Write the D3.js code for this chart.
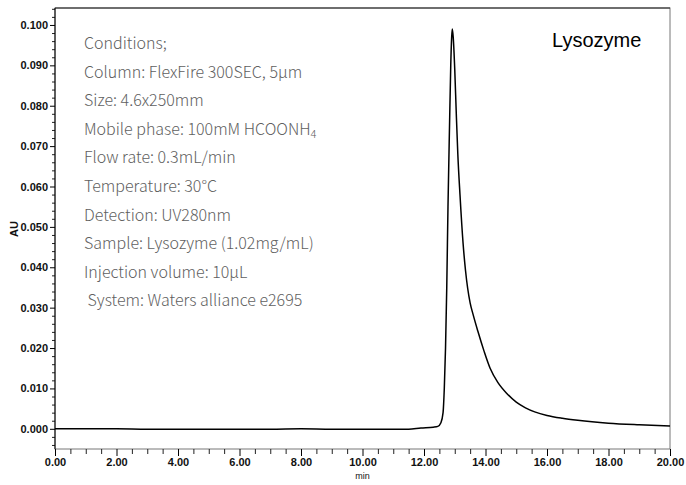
<!DOCTYPE html>
<html><head><meta charset="utf-8">
<script src="https://cdn.jsdelivr.net/npm/d3@7"></script>
<style>body{margin:0;background:#fff}svg{display:block}</style>
</head><body>
<script>
// ---- data ----
const timeMin = [0, 1, 2, 3, 4, 5, 6, 7, 8, 9, 10, 11, 11.5, 11.9, 12.3, 12.45, 12.55, 12.62, 12.66, 12.70, 12.74, 12.78, 12.83, 12.87, 12.90, 12.92, 12.95, 13.0, 13.05, 13.1, 13.17, 13.27, 13.35, 13.42, 13.5, 13.6, 13.75, 13.95, 14.15, 14.4, 14.7, 15.0, 15.3, 15.6, 16.0, 16.5, 17.0, 18.0, 19.0, 20.0];
const absorbance = [0.0000, 0.0000, 0.0000, -0.0001, -0.0001, -0.0001, -0.0001, -0.0001, 0.0000, -0.0001, -0.0001, -0.0001, -0.0001, 0.0002, 0.0004, 0.0006, 0.0015, 0.004, 0.010, 0.020, 0.035, 0.055, 0.075, 0.090, 0.097, 0.099, 0.097, 0.089, 0.078, 0.068, 0.058, 0.046, 0.0392, 0.0348, 0.0312, 0.0282, 0.0242, 0.0193, 0.0150, 0.0115, 0.0087, 0.0066, 0.0052, 0.0042, 0.0033, 0.0026, 0.0021, 0.0014, 0.0010, 0.0007];
const xTickValues = [0, 2, 4, 6, 8, 10, 12, 14, 16, 18, 20];
const yTickValues = [0, 0.01, 0.02, 0.03, 0.04, 0.05, 0.06, 0.07, 0.08, 0.09, 0.10];
const conditions = [
  "Conditions;",
  "Column: FlexFire 300SEC, 5\u00b5m",
  "Size: 4.6x250mm",
  "Mobile phase: 100mM HCOONH|4",
  "Flow rate: 0.3mL/min",
  "Temperature: 30\u00b0C",
  "Detection: UV280nm",
  "Sample: Lysozyme (1.02mg/mL)",
  "Injection volume: 10\u00b5L",
  " System: Waters alliance e2695"
];
const sampleName = "Lysozyme";

// ---- layout ----
const W = 686, H = 485;
const mL = 55, mR = 670, mT = 8, mB = 449;
const svg = d3.select("body").append("svg").attr("width", W).attr("height", H);

const x = d3.scaleLinear().domain([0, 20]).range([mL, mR]);
const y = d3.scaleLinear().domain([-0.005, 0.1042]).range([mB, mT]);

// frame
svg.append("rect").attr("x", mL).attr("y", mT).attr("width", mR-mL).attr("height", mB-mT)
  .attr("fill", "none").attr("stroke", "#777").attr("stroke-width", 1);
svg.append("line").attr("x1", mL).attr("x2", mR).attr("y1", mT).attr("y2", mT).attr("stroke", "#222");

const tickFont = "'Liberation Sans', Arial, sans-serif";

// y axis
const yMinor = d3.range(-0.004, 0.1041, 0.002).filter(v => Math.abs(Math.round(v*100)-v*100) > 1e-6);
svg.append("g").attr("transform", `translate(${mL},0)`)
  .call(d3.axisLeft(y).tickValues(yMinor).tickSize(3).tickFormat(""))
  .call(g => g.select(".domain").remove())
  .selectAll("line").attr("stroke", "#222");
const yAxis = d3.axisLeft(y).tickValues(yTickValues).tickSize(5).tickPadding(2).tickFormat(d3.format(".3f"));
const yg = svg.append("g").attr("transform", `translate(${mL},0)`).call(yAxis);
yg.select(".domain").attr("stroke", "#000").attr("d", `M0,${mT}V${mB}`);
yg.selectAll("text").attr("font-family", tickFont).attr("font-size", 11).attr("font-weight", "bold").attr("fill", "#111");

// x axis
const xMinor = d3.range(0.5, 20, 0.5).filter(v => v % 2 !== 0);
svg.append("g").attr("transform", `translate(0,${mB})`)
  .call(d3.axisBottom(x).tickValues(xMinor).tickSize(5).tickFormat(""))
  .call(g => g.select(".domain").remove())
  .selectAll("line").attr("stroke", "#222");
const xg = svg.append("g").attr("transform", `translate(0,${mB})`)
  .call(d3.axisBottom(x).tickValues(xTickValues).tickSize(7).tickPadding(2).tickFormat(d3.format(".2f")));
xg.select(".domain").remove();
xg.selectAll("text").attr("font-family", tickFont).attr("font-size", 11).attr("font-weight", "bold").attr("fill", "#111");

svg.append("text").attr("x", x(10)).attr("y", 479).attr("text-anchor", "middle")
  .attr("font-family", tickFont).attr("font-size", 9).attr("fill", "#111").text("min");
svg.append("text").attr("transform", `translate(18,229) rotate(-90)`).attr("text-anchor", "middle")
  .attr("font-family", tickFont).attr("font-size", 11).attr("font-weight", "bold").attr("fill", "#111").text("AU");

// line
const pts = timeMin.map((t, i) => [t, absorbance[i]]);
svg.append("path").datum(pts)
  .attr("fill", "none").attr("stroke", "#000").attr("stroke-width", 1.5)
  .attr("d", d3.line().x(d => x(d[0])).y(d => y(d[1])).curve(d3.curveMonotoneX));

// conditions
const condFont = "'Noto Sans CJK JP', 'Noto Sans', sans-serif";
conditions.forEach((s, i) => {
  const t = svg.append("text").attr("x", 84).attr("y", 49 + i*28.6)
    .attr("font-family", condFont).attr("font-size", 16).attr("font-weight", 300)
    .attr("fill", "#606060").style("white-space", "pre");
  const parts = s.split("|");
  t.append("tspan").text(parts[0]);
  if (parts[1]) t.append("tspan").attr("font-size", 11).attr("dy", 3).text(parts[1]);
});

svg.append("text").attr("x", 552).attr("y", 47).attr("font-family", tickFont)
  .attr("font-size", 20).attr("fill", "#000").text(sampleName);
</script>
</body></html>
